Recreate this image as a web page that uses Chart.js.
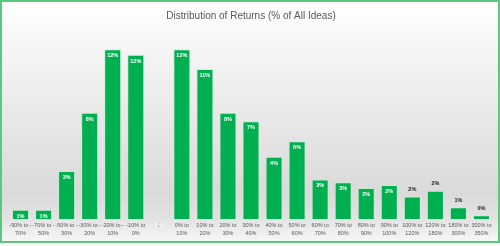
<!DOCTYPE html>
<html>
<head>
<meta charset="utf-8">
<script src="https://cdn.jsdelivr.net/npm/chart.js@4/dist/chart.umd.min.js"></script>
<style>
    html, body { margin: 0; padding: 0; background: #ffffff; }
    #wrap {
        position: absolute; left: 0; top: 0;
        width: 496px; height: 239px;
        border: 2px solid #5cc77f;
        background: linear-gradient(to bottom, #ffffff 0%, #f4f4f4 22%, #dadada 80%, #e2e2e2 90%, #f6f6f6 100%);
    }
    canvas { position: absolute; left: 0; top: 0; }
</style>
</head>
<body>
<div id="wrap"><canvas id="distChart" width="496" height="239"></canvas></div>
<script>
// Kategoriler (getiri aralıkları)
const RANGE_LABELS = [
    ['-90% to -', '70%'], ['-70% to -', '50%'], ['-50% to -', '30%'], ['-30% to -', '20%'],
    ['-20% to -', '10%'], ['-10% to', '0%'], ['0', ''], ['0% to', '10%'], ['10% to', '20%'],
    ['20% to', '30%'], ['30% to', '40%'], ['40% to', '50%'], ['50% to', '60%'], ['60% to', '70%'],
    ['70% to', '80%'], ['80% to', '90%'], ['90% to', '100%'], ['100% to', '120%'],
    ['120% to', '180%'], ['180% to', '300%'], ['300% to', '350%']
];

// Fikirlerin yüzdesi
const SHARE_VALUES = [0.65, 0.65, 3.4, 7.5, 12.0, 11.6, 0, 12.0, 10.6, 7.5, 6.9, 4.4, 5.5,
                      2.8, 2.6, 2.2, 2.4, 1.6, 2.0, 0.84, 0.26];

const Y_MAX = 13;

const BAR_GREEN = '#00b050';
const TEXT_GRAY = '#595959';

// Etiketi çubuğun üstüne yazılanlar
const OUTSIDE_LABELS = [17, 18, 19, 20];

/**
 * Çubuk üstü değer etiketleri
 */
const valueLabels = {
    id: 'valueLabels',
    afterDatasetsDraw(chart) {
        const { ctx } = chart;
        const meta = chart.getDatasetMeta(0);
        ctx.save();
        ctx.font = 'bold 5.5px "Liberation Sans", Arial, sans-serif';
        ctx.textAlign = 'center';
        ctx.textBaseline = 'middle';
        meta.data.forEach((bar, i) => {
            const text = Math.round(SHARE_VALUES[i]) + '%';
            if (OUTSIDE_LABELS.includes(i)) {
                ctx.fillStyle = '#222222';
                ctx.fillText(text, bar.x, bar.y - 7);
            } else {
                ctx.fillStyle = '#ffffff';
                ctx.fillText(text, bar.x, bar.y + 6.5);
            }
        });
        ctx.restore();
    }
};

new Chart(document.getElementById('distChart'), {
    type: 'bar',
    data: {
        labels: RANGE_LABELS,
        datasets: [{
            data: SHARE_VALUES,
            backgroundColor: BAR_GREEN,
            borderColor: 'rgba(190, 240, 205, 0.7)',
            borderWidth: 1,
            barPercentage: 0.74,
            categoryPercentage: 1.0
        }]
    },
    options: {
        responsive: false,
        animation: false,
        layout: { padding: { left: 7, right: 5, top: 0, bottom: 2 } },
        plugins: {
            legend: { display: false },
            tooltip: { enabled: false },
            title: {
                display: true,
                text: 'Distribution of Returns (% of All Ideas)',
                color: TEXT_GRAY,
                font: { family: '"Liberation Sans Narrow", "Liberation Sans", Arial, sans-serif', size: 10, weight: 'normal' },
                padding: { top: 8, bottom: 13 }
            }
        },
        scales: {
            x: {
                grid: { display: false, drawTicks: false },
                border: { display: false },
                ticks: {
                    color: TEXT_GRAY,
                    autoSkip: false,
                    maxRotation: 0,
                    minRotation: 0,
                    padding: 2,
                    font: { family: '"Liberation Sans Narrow", "Liberation Sans", Arial, sans-serif', size: 5.5, lineHeight: 1.45 }
                }
            },
            y: {
                display: false,
                min: 0,
                max: Y_MAX
            }
        }
    },
    plugins: [valueLabels]
});
</script>
</body>
</html>
